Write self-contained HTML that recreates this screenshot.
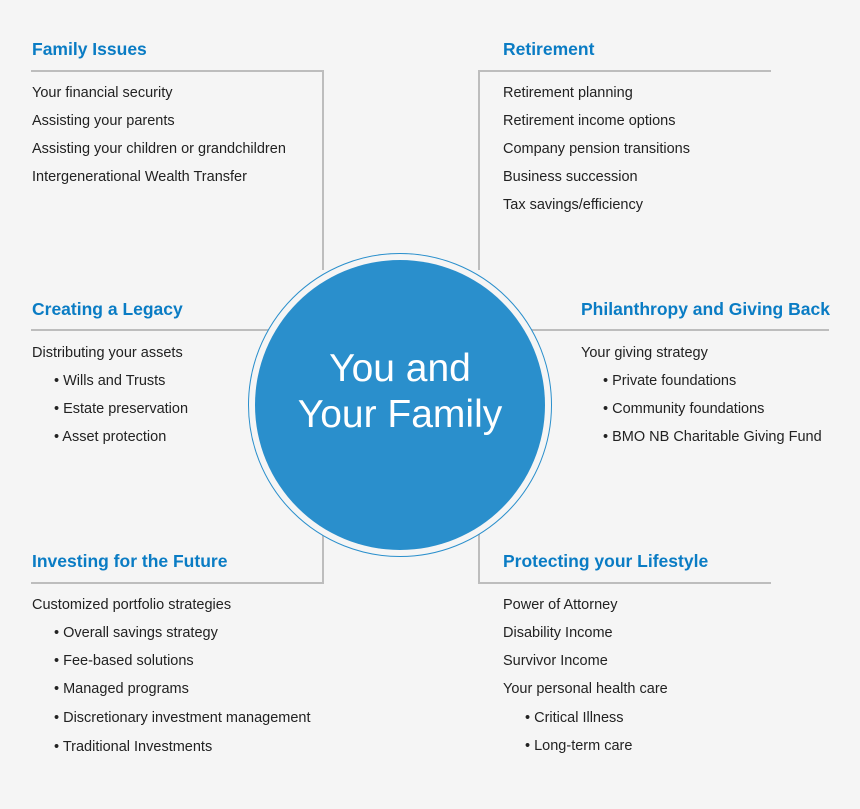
<!DOCTYPE html>
<html><head><meta charset="utf-8"><style>
body{margin:0;width:860px;height:809px;background:#f5f5f5;position:relative;overflow:hidden;font-family:"Liberation Sans",sans-serif;}
.t{position:absolute;white-space:nowrap;line-height:20px;font-size:14.5px;color:#222;}
.h{position:absolute;white-space:nowrap;line-height:22px;font-size:17.5px;font-weight:bold;color:#0a7cc4;}
.l{position:absolute;background:#bdbdbd;}
</style></head><body>
<div class="l" style="left:31px;top:70px;width:293px;height:1.5px"></div>
<div class="l" style="left:322px;top:70px;width:1.5px;height:200px"></div>
<div class="l" style="left:478px;top:70px;width:293px;height:1.5px"></div>
<div class="l" style="left:478px;top:70px;width:1.5px;height:200px"></div>
<div class="l" style="left:31px;top:329px;width:240px;height:1.5px"></div>
<div class="l" style="left:530px;top:329px;width:299px;height:1.5px"></div>
<div class="l" style="left:31px;top:582px;width:293px;height:1.5px"></div>
<div class="l" style="left:322px;top:530px;width:1.5px;height:54px"></div>
<div class="l" style="left:478px;top:582px;width:293px;height:1.5px"></div>
<div class="l" style="left:478px;top:530px;width:1.5px;height:54px"></div>
<div style="position:absolute;left:248px;top:253px;width:304px;height:304px;border-radius:50%;background:#f5f5f5;border:1.5px solid #2a8fcc;box-sizing:border-box"></div>
<div style="position:absolute;left:255px;top:260px;width:290px;height:290px;border-radius:50%;background:#2a8fcc"></div>
<div style="position:absolute;left:255px;top:346px;width:290px;text-align:center;color:#fff;font-size:39px;line-height:46px">You and<br>Your Family</div>
<div class="h" style="left:32px;top:38px">Family Issues</div>
<div class="t" style="left:32px;top:83px">Your financial security</div>
<div class="t" style="left:32px;top:111px">Assisting your parents</div>
<div class="t" style="left:32px;top:139px">Assisting your children or grandchildren</div>
<div class="t" style="left:32px;top:167px">Intergenerational Wealth Transfer</div>
<div class="h" style="left:503px;top:38px">Retirement</div>
<div class="t" style="left:503px;top:83px">Retirement planning</div>
<div class="t" style="left:503px;top:111px">Retirement income options</div>
<div class="t" style="left:503px;top:139px">Company pension transitions</div>
<div class="t" style="left:503px;top:167px">Business succession</div>
<div class="t" style="left:503px;top:195px">Tax savings/efficiency</div>
<div class="h" style="left:32px;top:298px">Creating a Legacy</div>
<div class="t" style="left:32px;top:343px">Distributing your assets</div>
<div class="t" style="left:54px;top:371px">• Wills and Trusts</div>
<div class="t" style="left:54px;top:399px">• Estate preservation</div>
<div class="t" style="left:54px;top:427px">• Asset protection</div>
<div class="h" style="left:581px;top:298px">Philanthropy and Giving Back</div>
<div class="t" style="left:581px;top:343px">Your giving strategy</div>
<div class="t" style="left:603px;top:371px">• Private foundations</div>
<div class="t" style="left:603px;top:399px">• Community foundations</div>
<div class="t" style="left:603px;top:427px">• BMO NB Charitable Giving Fund</div>
<div class="h" style="left:32px;top:550px">Investing for the Future</div>
<div class="t" style="left:32px;top:595px">Customized portfolio strategies</div>
<div class="t" style="left:54px;top:623px">• Overall savings strategy</div>
<div class="t" style="left:54px;top:651px">• Fee-based solutions</div>
<div class="t" style="left:54px;top:679px">• Managed programs</div>
<div class="t" style="left:54px;top:708px">• Discretionary investment management</div>
<div class="t" style="left:54px;top:737px">• Traditional Investments</div>
<div class="h" style="left:503px;top:550px">Protecting your Lifestyle</div>
<div class="t" style="left:503px;top:595px">Power of Attorney</div>
<div class="t" style="left:503px;top:623px">Disability Income</div>
<div class="t" style="left:503px;top:651px">Survivor Income</div>
<div class="t" style="left:503px;top:679px">Your personal health care</div>
<div class="t" style="left:525px;top:708px">• Critical Illness</div>
<div class="t" style="left:525px;top:736px">• Long-term care</div>
</body></html>
